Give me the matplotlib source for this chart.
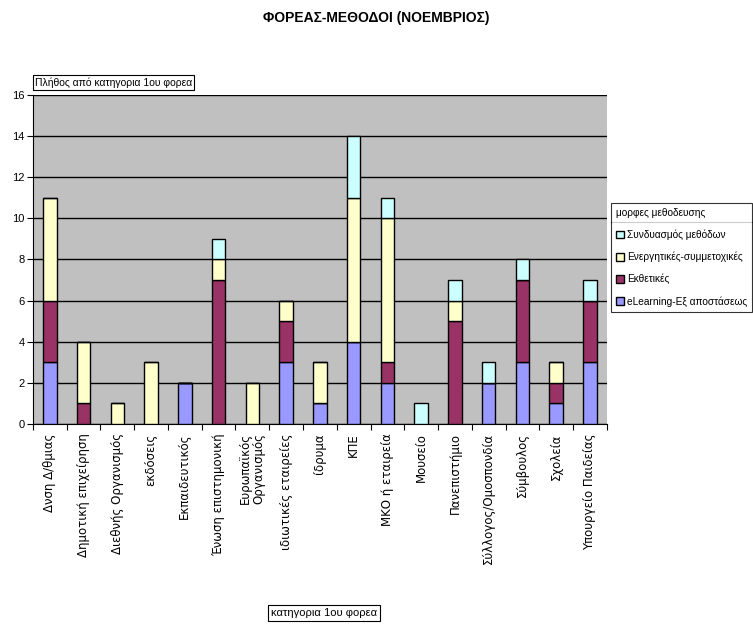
import matplotlib.pyplot as plt
import numpy as np
from matplotlib.lines import Line2D

plt.rcParams['font.family'] = ['Liberation Sans', 'DejaVu Sans']

# κατηγορίες φορέων
categories = ['Δνση Δ/θμιας', 'Δημοτική επιχείρηση', 'Διεθνής Οργανισμός', 'εκδόσεις',
              'Εκπαιδευτικός', 'Ένωση επιστημονική', 'Ευρωπαϊκός\nΟργανισμός',
              'ιδιωτικές εταιρείες', 'ίδρυμα', 'ΚΠΕ', 'ΜΚΟ ή εταιρεία', 'Μουσείο',
              'Πανεπιστήμιο', 'Σύλλογος/Ομοσπονδία', 'Σύμβουλος', 'Σχολεία',
              'Υπουργείο Παιδείας']

# τιμές ανά μορφή μεθόδευσης
elearning = [3, 0, 0, 0, 2, 0, 0, 3, 1, 4, 2, 0, 0, 2, 3, 1, 3]
ekthetikes = [3, 1, 0, 0, 0, 7, 0, 2, 0, 0, 1, 0, 5, 0, 4, 1, 3]
energ = [5, 3, 1, 3, 0, 1, 2, 1, 2, 7, 7, 0, 1, 0, 0, 1, 0]
syndyasmos = [0, 0, 0, 0, 0, 1, 0, 0, 0, 3, 1, 1, 1, 1, 1, 0, 1]

series = [
    ('eLearning-Εξ αποστάσεως', elearning, '#9999FF'),
    ('Εκθετικές', ekthetikes, '#993366'),
    ('Ενεργητικές-συμμετοχικές', energ, '#FFFFCC'),
    ('Συνδυασμός μεθόδων', syndyasmos, '#CCFFFF'),
]

fig = plt.figure(figsize=(7.53, 6.28), dpi=100)
ax = fig.add_axes([0.0438, 0.3248, 0.762, 0.524])
ax.set_facecolor('#C0C0C0')

x = np.arange(len(categories))
bottom = np.zeros(len(categories))
handles = []
for name, vals, col in series:
    vals = np.array(vals)
    b = ax.bar(x, vals, 0.4, bottom=bottom, color=col, edgecolor='black',
               linewidth=1, label=name, zorder=3)
    handles.append(b)
    bottom += vals

ax.set_xlim(-0.5, len(categories) - 0.5)
ax.set_ylim(0, 16)
ax.set_yticks(range(0, 17, 2))
ax.yaxis.grid(True, color='black', linewidth=1, zorder=1)
ax.set_axisbelow(True)
ax.tick_params(axis='y', labelsize=8, direction='out', length=4, pad=2)

# ticks ανάμεσα στις κατηγορίες
ax.set_xticks(np.arange(-0.5, len(categories), 1))
ax.set_xticklabels([])
ax.tick_params(axis='x', direction='out', length=4)
for i, c in enumerate(categories):
    ax.text(i, -0.45, c, rotation=90, ha='center', va='top', fontsize=8.5,
            family='DejaVu Sans', transform=ax.transData, linespacing=1.0)

for s in ['top', 'right']:
    ax.spines[s].set_visible(False)

fig.text(0.5, 0.972, 'ΦΟΡΕΑΣ-ΜΕΘΟΔΟΙ (ΝΟΕΜΒΡΙΟΣ)', ha='center', va='center',
         fontsize=10, fontweight='bold')

fig.text(0.046, 0.869, 'Πλήθος από κατηγορια 1ου φορεα', ha='left', va='center', fontsize=7.5,
         bbox=dict(facecolor='white', edgecolor='black', boxstyle='square,pad=0.2', linewidth=0.8))

fig.text(0.43, 0.024, 'κατηγορια 1ου φορεα', ha='center', va='center', fontsize=8,
         bbox=dict(facecolor='white', edgecolor='black', boxstyle='square,pad=0.25', linewidth=0.8))

leg = fig.legend(handles[::-1], [s[0] for s in series][::-1], title='μορφες μεθοδευσης',
                 loc='upper left', bbox_to_anchor=(0.811, 0.677), fontsize=7.3,
                 title_fontsize=7.3, frameon=True, fancybox=False, edgecolor='black',
                 handlelength=0.8, handleheight=0.8, handletextpad=0.3,
                 borderpad=0.5, labelspacing=1.15, borderaxespad=0)
leg._legend_box.align = 'left'
leg.get_frame().set_linewidth(0.8)

fig.canvas.draw()
lb = leg.get_window_extent()
tb = leg.get_title().get_window_extent()
inv = fig.transFigure.inverted()
y_line = (tb.y0 - 4)
(x0, yl), (x1, _) = inv.transform([(lb.x0, y_line), (lb.x1, y_line)])
fig.add_artist(Line2D([x0, x1], [yl, yl], color='black', linewidth=0.8))

fig.savefig('out.png', dpi=100)
